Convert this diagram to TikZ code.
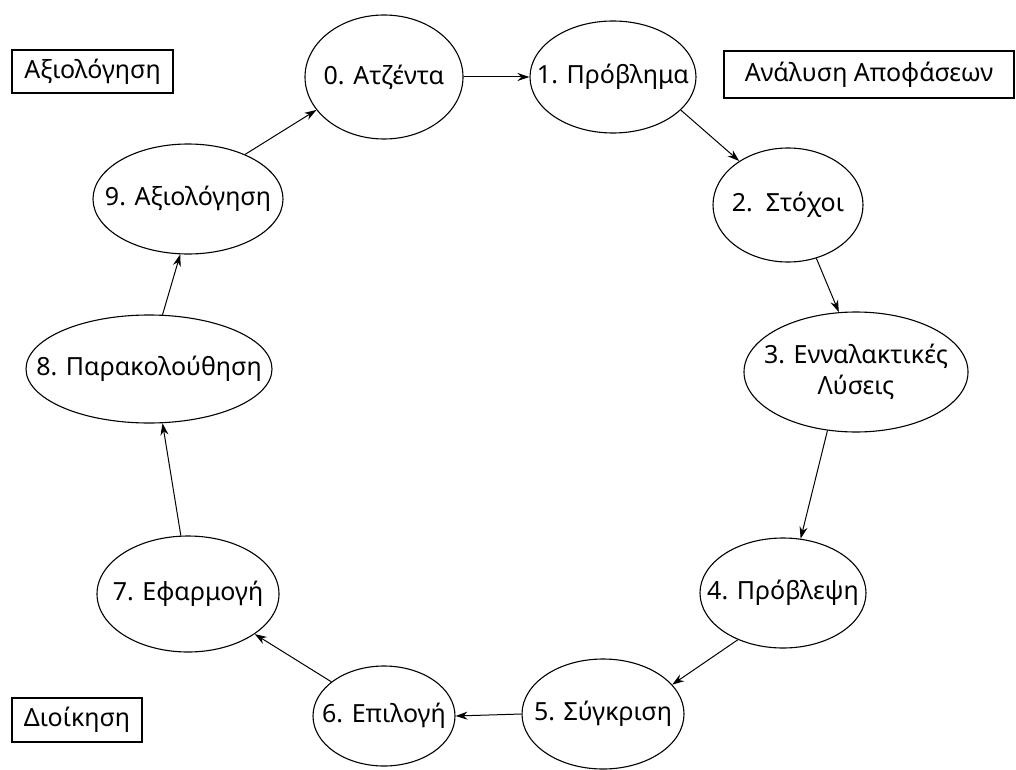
\documentclass[tikz,border=0pt]{standalone}
\usepackage{fontspec}
\setmainfont{Noto Sans}
\usetikzlibrary{shapes.geometric,arrows.meta}
\tikzset{
  stage/.style={ellipse, draw, line width=1.1pt, inner sep=0pt},
  stagetext/.style={inner sep=0pt, align=center, font=\fontsize{25}{31}\selectfont},
  label box/.style={rectangle, draw, line width=1.1pt, inner sep=0pt,
    font=\fontsize{25}{30}\selectfont},
  flow/.style={line width=1pt, -{Stealth[length=12pt,width=8pt]}}
}
\begin{document}
\begin{tikzpicture}[x=1pt,y=-1pt]
\useasboundingbox (0,0) rectangle (1016,770);
\node[stage, minimum width=158pt, minimum height=124pt, label={[stagetext]center:0. Ατζέντα}] (e0) at (384,77) {};
\node[stage, minimum width=166pt, minimum height=112pt, label={[stagetext]center:1. Πρόβλημα}] (e1) at (613,77) {};
\node[stage, minimum width=150pt, minimum height=114pt, label={[stagetext]center:2.\ \ Στόχοι}] (e2) at (788,205) {};
\node[stage, minimum width=224pt, minimum height=120pt, label={[stagetext]center:3. Ενναλακτικές\\Λύσεις}] (e3) at (856,372) {};
\node[stage, minimum width=166pt, minimum height=110pt, label={[stagetext]center:4. Πρόβλεψη}] (e4) at (783,593) {};
\node[stage, minimum width=162pt, minimum height=110pt, label={[stagetext]center:5. Σύγκριση}] (e5) at (603,714) {};
\node[stage, minimum width=142pt, minimum height=100pt, label={[stagetext]center:6. Επιλογή}] (e6) at (384,716) {};
\node[stage, minimum width=182pt, minimum height=116pt, label={[stagetext]center:7. Εφαρμογή}] (e7) at (188,594) {};
\node[stage, minimum width=246pt, minimum height=108pt, label={[stagetext]center:8. Παρακολούθηση}] (e8) at (149,369) {};
\node[stage, minimum width=190pt, minimum height=110pt, label={[stagetext]center:9. Αξιολόγηση}] (e9) at (188,199) {};

\node[label box, minimum width=161pt, minimum height=43pt] (b1) at (92.5,71.5) {Αξιολόγηση};
\node[label box, minimum width=290pt, minimum height=47pt] (b2) at (869,74.5) {Ανάλυση Αποφάσεων};
\node[label box, minimum width=130pt, minimum height=44pt] (b3) at (77,720) {Διοίκηση};

\draw[flow] (e0.0) -- (e1.180);
\draw[flow] (e1.-26.6) -- (e2.138.6);
\draw[flow] (e2.-62.5) -- (e3.106.7);
\draw[flow] (e3.-116.6) -- (e4.72);
\draw[flow] (e4.226.8) -- (e5.23.9);
\draw[flow] (e5.180) -- (e6.0);
\draw[flow] (e6.147) -- (e7.-31.6);
\draw[flow] (e7.97.9) -- (e8.-76.4);
\draw[flow] (e8.76) -- (e9.-98);
\draw[flow] (e9.38) -- (e0.206);
\end{tikzpicture}
\end{document}
